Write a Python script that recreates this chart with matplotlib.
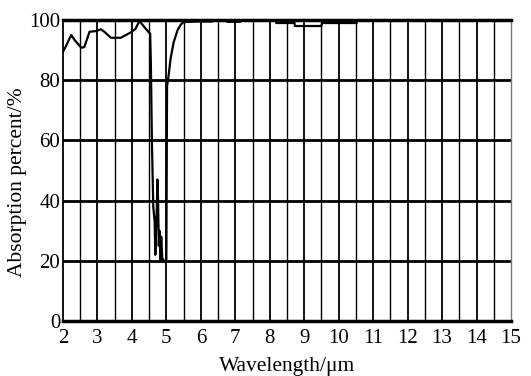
import numpy as np
import matplotlib.pyplot as plt

plt.rcParams['font.family'] = ['Liberation Serif', 'DejaVu Serif']

# curva de absorcao
wl = [2.00, 2.05, 2.24, 2.34, 2.53, 2.62, 2.77, 2.95, 3.10, 3.20, 3.39, 3.68,
      3.97, 4.10, 4.22, 4.35, 4.49, 4.53, 4.55, 4.58, 4.62, 4.66, 4.68, 4.70,
      4.72, 4.74, 4.76, 4.78, 4.80, 4.83, 4.85, 4.88, 4.93, 4.97, 5.00, 5.02,
      5.07, 5.12, 5.21, 5.32, 5.42, 5.50, 5.90, 6.33, 6.36, 6.74, 6.76, 7.14,
      7.16, 8.17, 8.19, 8.72, 8.73, 9.50, 9.52, 10.52]
absorb = [89.5, 90.5, 95.0, 93.3, 90.8, 91.0, 96.1, 96.3, 96.9, 96.1, 94.1, 94.1,
          95.9, 97.0, 99.7, 97.8, 95.9, 95.5, 86.0, 60.0, 38.0, 33.0, 22.0, 30.0,
          36.0, 47.0, 40.0, 25.0, 30.0, 20.0, 28.0, 21.0, 20.0, 19.5, 20.0, 78.0,
          82.0, 87.0, 92.5, 96.5, 98.5, 99.3, 99.5, 99.5, 100.0, 100.0, 99.4, 99.4,
          100.0, 100.0, 99.0, 99.0, 98.0, 98.0, 99.0, 99.0]

xticks = list(range(2, 16))
yticks = [0, 20, 40, 60, 80, 100]

fig = plt.figure(figsize=(5.31, 3.76), dpi=100)
ax = fig.add_axes([0.1186, 0.1463, 0.8437, 0.8005])

# grade vertical a cada 0.5 um
for xv in np.arange(2.5, 15.0, 0.5):
    ax.axvline(xv, color='black', lw=1.3 if xv % 1 == 0 else 1.0, zorder=1)
for yv in yticks[1:-1]:
    ax.axhline(yv, color='black', lw=2.0, zorder=1)

ax.plot(wl, absorb, color='black', lw=1.6, zorder=3)

ax.set_xlim(2, 15)
ax.set_ylim(0, 100)
ax.set_xticks(xticks)
ax.set_yticks(yticks)
ax.tick_params(length=0, labelsize=15)
ax.tick_params(axis='x', pad=6)
ax.tick_params(axis='y', pad=2)

for s in ['top', 'bottom']:
    ax.spines[s].set_linewidth(2.5)
ax.spines['left'].set_linewidth(1.3)
ax.spines['right'].set_linewidth(1.0)
ax.spines['right'].set_color('#777777')

ax.set_xlabel("Wavelength/μm", fontsize=15.5)
ax.set_ylabel("Absorption percent/%", fontsize=15.5)
ax.xaxis.set_label_coords(0.5, -0.118)
ax.yaxis.set_label_coords(-0.08, 0.46)

plt.savefig("out.png", dpi=100)
